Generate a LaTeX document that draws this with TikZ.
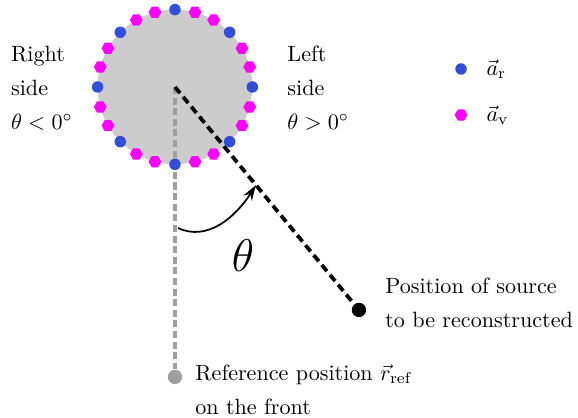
\documentclass[tikz,border=0pt]{standalone}
\usepackage{amsmath}
\usepackage{tikz}
\usetikzlibrary{shapes.geometric,arrows.meta}

\definecolor{realblue}{RGB}{51,77,217}
\definecolor{virtmag}{RGB}{255,0,255}

\tikzset{
  realdot/.style={circle, fill=realblue, inner sep=0pt, minimum size=5.2pt},
  virtdot/.style={regular polygon, regular polygon sides=6, fill=virtmag, inner sep=0pt, minimum size=5.8pt},
  txt/.style={align=left, inner sep=0pt, anchor=west, font=\linespread{1.28}\selectfont},
}

\begin{document}
\begin{tikzpicture}
    \useasboundingbox (0,0) rectangle (9.19,6.645);
    \coordinate (c) at (2.782,5.262);
    \fill[gray!40] (c) circle (1.23);
    % reference and source
    \node[circle, fill=gray!75, inner sep=0pt, minimum size=6.5pt] (ref) at (2.782,0.652) {};
    \node[circle, fill=black, inner sep=0pt, minimum size=6.5pt] (src) at (5.707,1.717) {};
    \draw[gray!75, line width=1.4pt, dash pattern=on 3.2pt off 1.6pt] (c) -- (ref);
    \draw[line width=1.7pt, dash pattern=on 3.6pt off 2.2pt] (c) -- (src);
    % array
    \foreach \a in {0,45,...,315} {
      \node[realdot] at ([shift={(\a:1.23)}]c) {};
      \node[virtdot] at ([shift={(\a+15:1.23)}]c) {};
      \node[virtdot] at ([shift={(\a+30:1.23)}]c) {};
    }
    % angle
    \coordinate (a0) at (2.83,3.02);
    \path (c) -- (src) coordinate[pos=0.452] (a1);
    \draw[thick, -{Stealth[length=7pt,width=4.5pt]}] (a0) .. controls (3.3,2.8) and (3.75,3.2) .. (a1);
    \node[font=\huge] (th) at (3.863,2.576) {$\theta$};
    % texts
    \node[txt] (rs) at (0.17,5.246) {Right\\side\\$\theta<0^\circ$};
    \node[txt] (ls) at (4.563,5.246) {Left\\side\\$\theta>0^\circ$};
    \node[txt] (srctxt) at (6.12,1.828) {Position of source\\to be reconstructed};
    \node[txt] (reftxt) at (3.1,0.453) {Reference position $\vec{r}_\mathrm{ref}$\\on the front};
    % legend
    \node[realdot] (lr) at (7.33,5.548) {};
    \node[right=8pt] at (lr) {$\vec{a}_\mathrm{r}$};
    \node[virtdot] (lv) at (7.33,4.817) {};
    \node[right=8pt] at (lv) {$\vec{a}_\mathrm{v}$};
\end{tikzpicture}
\end{document}
